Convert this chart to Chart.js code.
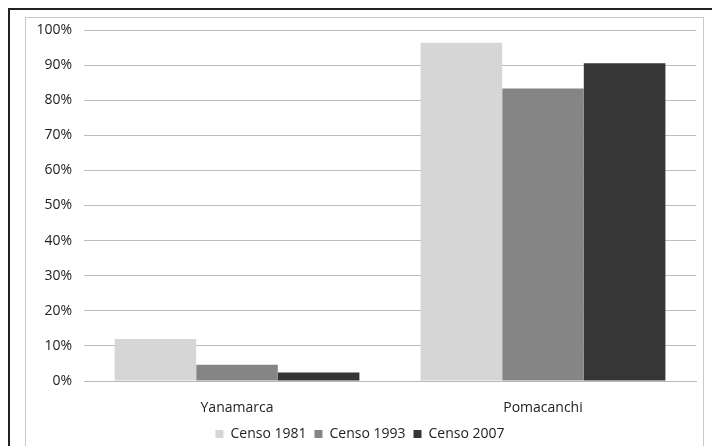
<!DOCTYPE html>
<html>
<head>
<meta charset="utf-8">
<script src="https://cdn.jsdelivr.net/npm/chart.js@4"></script>
<style>
  html, body { margin: 0; padding: 0; background: #fff; }
  body { width: 712px; height: 446px; position: relative; overflow: hidden; }
  #outer { position: absolute; left: 8px; top: 8px; width: 720px; height: 460px;
           border-left: 2px solid #222; border-top: 2px solid #222; }
  #inner { position: absolute; left: 25px; top: 17px; width: 677px; height: 440px;
           border: 1px solid #c8c8c8; }
  canvas { position: absolute; left: 0; top: 0; }
</style>
</head>
<body>
<div id="outer"></div>
<div id="inner"></div>
<canvas id="chart" width="712" height="446"></canvas>
<script>
// porcentaje por distrito y censo
const categories = ['Yanamarca', 'Pomacanchi'];
const censo1981 = [12, 96.4];
const censo1993 = [4.6, 83.3];
const censo2007 = [2.4, 90.5];
const yTicks = [0, 10, 20, 30, 40, 50, 60, 70, 80, 90, 100];

const font = { family: "'Open Sans', 'DejaVu Sans', sans-serif", size: 14 };

new Chart(document.getElementById('chart'), {
    type: 'bar',
    data: {
        labels: categories,
        datasets: [{
            label: 'Censo 1981',
            data: censo1981,
            backgroundColor: '#d6d6d6'
        },
        {
            label: 'Censo 1993',
            data: censo1993,
            backgroundColor: '#858585'
        },
        {
            label: 'Censo 2007',
            data: censo2007,
            backgroundColor: '#363636'
        }]
    },
    options: {
        responsive: false,
        animation: false,
        layout: {
            padding: { left: 24, right: 16, top: 30, bottom: -5 }
        },
        datasets: {
            bar: { categoryPercentage: 0.8, barPercentage: 1.0 }
        },
        plugins: {
            legend: {
                position: 'bottom',
                labels: {
                    boxWidth: 8,
                    boxHeight: 8,
                    padding: 8,
                    color: '#222',
                    font: font
                }
            },
            tooltip: { enabled: false }
        },
        scales: {
            x: {
                grid: { display: false, drawTicks: false },
                border: { color: '#b8b8b8' },
                ticks: { color: '#222', padding: 19, font: font },
                afterFit: s => { s.height = 38; }
            },
            y: {
                min: 0,
                max: 100,
                afterBuildTicks: s => { s.ticks = yTicks.map(v => ({ value: v })); },
                grid: { color: '#bdbdbd', drawTicks: false },
                border: { display: false },
                ticks: {
                    color: '#222',
                    padding: 12,
                    font: font,
                    callback: v => v + '%'
                },
                afterFit: s => { s.width = 60; }
            }
        }
    }
});
</script>
</body>
</html>
